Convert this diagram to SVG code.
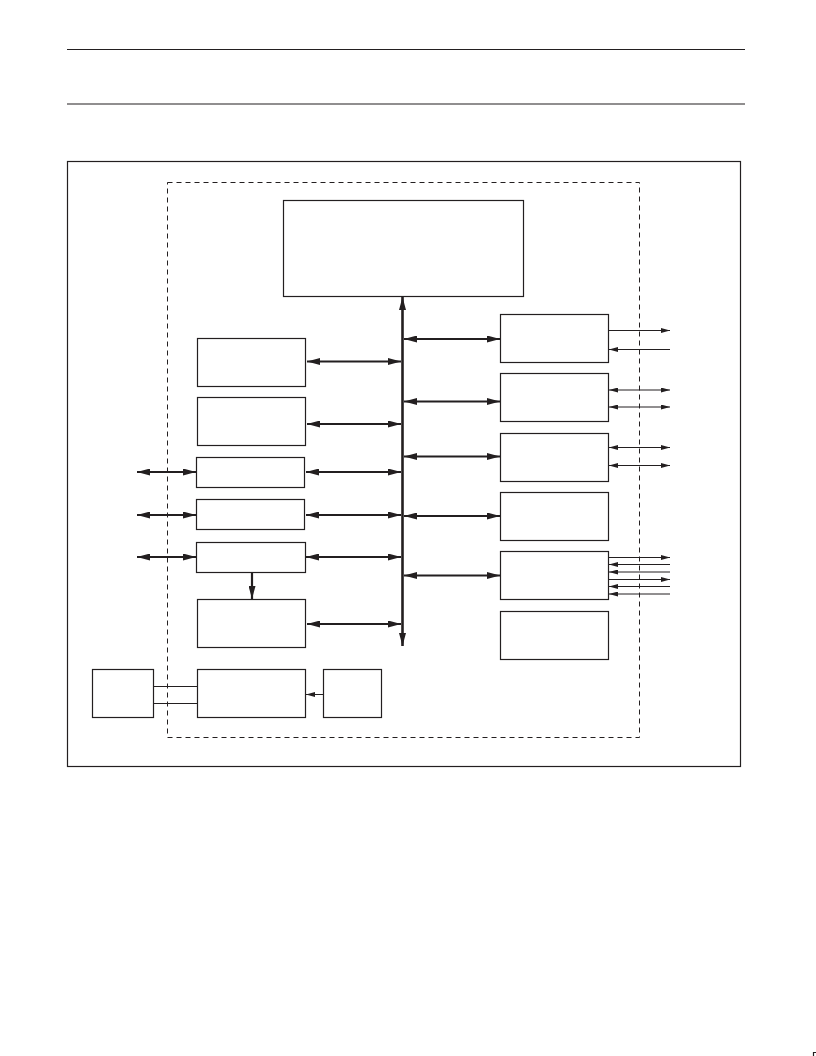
<svg xmlns="http://www.w3.org/2000/svg" width="816" height="1056" viewBox="0 0 816 1056">
<style>
.box{fill:#fff;stroke:#231f20;stroke-width:1.2}
.rule{stroke:#231f20;stroke-width:1.2;fill:none}
.dash{fill:none;stroke:#231f20;stroke-width:1;stroke-dasharray:5,4}
.bold{stroke:#231f20;stroke-width:2.2;fill:none}
.bus{stroke:#231f20;stroke-width:2.6;fill:none}
.thin{stroke:#231f20;stroke-width:1;fill:none}
</style>
<defs>
<marker id="bh" markerUnits="userSpaceOnUse" markerWidth="13" markerHeight="7" refX="13" refY="3.5" orient="auto-start-reverse"><path d="M0,0 L13,3.5 L0,7 z" fill="#231f20"/></marker>
<marker id="th" markerUnits="userSpaceOnUse" markerWidth="9" markerHeight="5" refX="9" refY="2.5" orient="auto-start-reverse"><path d="M0,0 L9,2.5 L0,5 z" fill="#231f20"/></marker>
</defs>
<rect width="816" height="1056" fill="#fff"/>
<g id="header">
<line class="rule" x1="67" y1="49.5" x2="745" y2="49.5"/>
<line class="rule" x1="67" y1="104" x2="745" y2="104"/>
</g>
<g id="frame">
<rect class="box" x="67.5" y="161.5" width="673" height="605" fill="none"/>
<rect class="dash" x="167.5" y="182.5" width="472" height="555"/>
</g>
<g id="cpu"><rect class="box" x="283.5" y="200.5" width="240" height="96"/></g>
<g id="left-a"><rect class="box" x="197.5" y="338.5" width="108" height="48"/></g>
<g id="left-b"><rect class="box" x="197.5" y="397.5" width="108" height="48"/></g>
<g id="left-c"><rect class="box" x="196.5" y="457.5" width="108" height="30"/></g>
<g id="left-d"><rect class="box" x="196.5" y="499.5" width="108" height="30"/></g>
<g id="left-e"><rect class="box" x="196.5" y="542.5" width="109" height="30"/></g>
<g id="left-f"><rect class="box" x="197.5" y="599.5" width="108" height="48"/></g>
<g id="right-1"><rect class="box" x="500.5" y="314.5" width="108" height="48"/></g>
<g id="right-2"><rect class="box" x="500.5" y="373.5" width="108" height="48"/></g>
<g id="right-3"><rect class="box" x="500.5" y="433.5" width="108" height="48"/></g>
<g id="right-4"><rect class="box" x="500.5" y="492.5" width="108" height="48"/></g>
<g id="right-5"><rect class="box" x="500.5" y="551.5" width="108" height="48"/></g>
<g id="right-6"><rect class="box" x="500.5" y="611.5" width="108" height="48"/></g>
<g id="ext-left"><rect class="box" x="92.5" y="669.5" width="61" height="48"/></g>
<g id="bottom-mid"><rect class="box" x="197.5" y="669.5" width="108" height="48"/></g>
<g id="bottom-right"><rect class="box" x="323.5" y="669.5" width="58" height="48"/></g>
<g id="connectors">
<line class="bus" x1="402.5" y1="646" x2="402.5" y2="297" marker-start="url(#bh)" marker-end="url(#bh)"/>
<line class="bold" x1="307" y1="361.5" x2="401" y2="361.5" marker-start="url(#bh)" marker-end="url(#bh)"/>
<line class="bold" x1="307" y1="424" x2="401" y2="424" marker-start="url(#bh)" marker-end="url(#bh)"/>
<line class="bold" x1="306" y1="472" x2="401" y2="472" marker-start="url(#bh)" marker-end="url(#bh)"/>
<line class="bold" x1="306" y1="515" x2="401" y2="515" marker-start="url(#bh)" marker-end="url(#bh)"/>
<line class="bold" x1="306" y1="557" x2="401" y2="557" marker-start="url(#bh)" marker-end="url(#bh)"/>
<line class="bold" x1="307" y1="624" x2="401" y2="624" marker-start="url(#bh)" marker-end="url(#bh)"/>
<line class="bold" x1="137" y1="472" x2="196" y2="472" marker-start="url(#bh)" marker-end="url(#bh)"/>
<line class="bold" x1="137" y1="515" x2="196" y2="515" marker-start="url(#bh)" marker-end="url(#bh)"/>
<line class="bold" x1="137" y1="557" x2="196" y2="557" marker-start="url(#bh)" marker-end="url(#bh)"/>
<line class="bold" x1="252" y1="573" x2="252" y2="599" marker-end="url(#bh)"/>
<line class="bold" x1="404" y1="339" x2="500" y2="339" marker-start="url(#bh)" marker-end="url(#bh)"/>
<line class="bold" x1="404" y1="401.5" x2="500" y2="401.5" marker-start="url(#bh)" marker-end="url(#bh)"/>
<line class="bold" x1="404" y1="456.5" x2="500" y2="456.5" marker-start="url(#bh)" marker-end="url(#bh)"/>
<line class="bold" x1="404" y1="516" x2="500" y2="516" marker-start="url(#bh)" marker-end="url(#bh)"/>
<line class="bold" x1="404" y1="575.5" x2="500" y2="575.5" marker-start="url(#bh)" marker-end="url(#bh)"/>
<line class="thin" x1="609" y1="330.5" x2="670" y2="330.5" marker-end="url(#th)"/>
<line class="thin" x1="670" y1="349.5" x2="609" y2="349.5" marker-end="url(#th)"/>
<line class="thin" x1="609" y1="390" x2="670" y2="390" marker-start="url(#th)" marker-end="url(#th)"/>
<line class="thin" x1="609" y1="407" x2="670" y2="407" marker-start="url(#th)" marker-end="url(#th)"/>
<line class="thin" x1="609" y1="447.5" x2="670" y2="447.5" marker-start="url(#th)" marker-end="url(#th)"/>
<line class="thin" x1="609" y1="465.5" x2="670" y2="465.5" marker-start="url(#th)" marker-end="url(#th)"/>
<line class="thin" x1="609" y1="557.5" x2="670" y2="557.5" marker-end="url(#th)"/>
<line class="thin" x1="670" y1="564.5" x2="609" y2="564.5" marker-end="url(#th)"/>
<line class="thin" x1="670" y1="572" x2="609" y2="572" marker-end="url(#th)"/>
<line class="thin" x1="609" y1="579.5" x2="670" y2="579.5" marker-end="url(#th)"/>
<line class="thin" x1="670" y1="586.5" x2="609" y2="586.5" marker-end="url(#th)"/>
<line class="thin" x1="670" y1="594" x2="609" y2="594" marker-end="url(#th)"/>
<line class="thin" x1="154" y1="686.5" x2="197" y2="686.5"/>
<line class="thin" x1="154" y1="703.5" x2="197" y2="703.5"/>
<line class="thin" x1="323" y1="694.5" x2="306" y2="694.5" marker-end="url(#th)"/>
</g>
<path d="M813.5,1056 V1052.5 H816" fill="none" stroke="#231f20" stroke-width="1.2"/>
</svg>
